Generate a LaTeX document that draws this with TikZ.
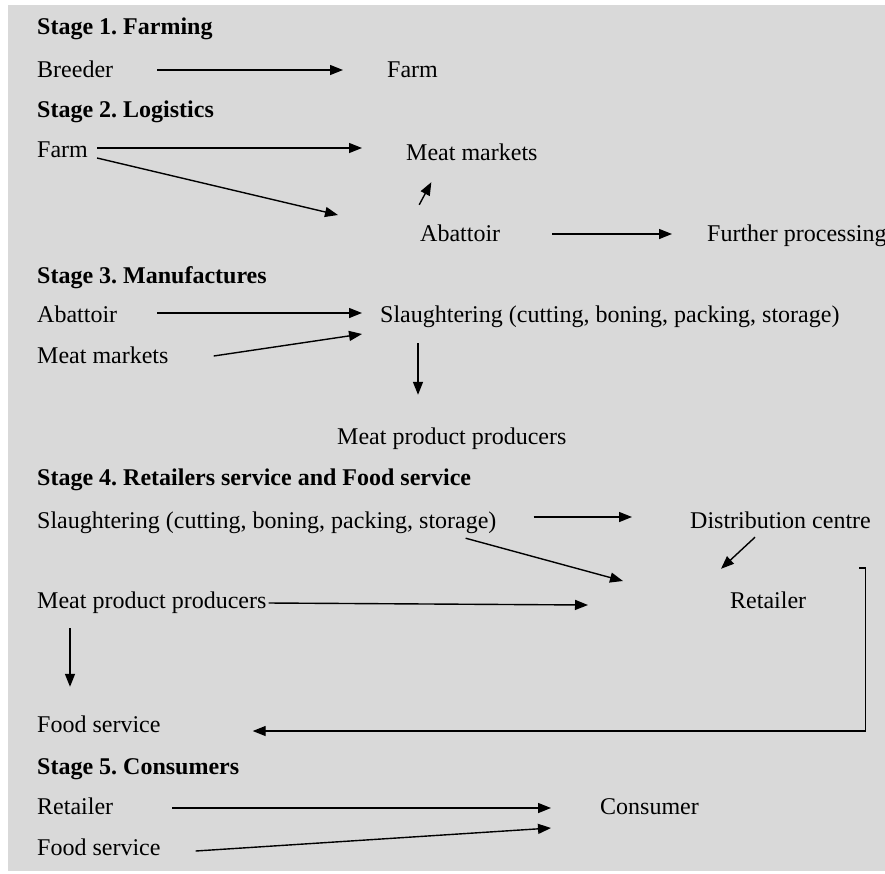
\documentclass[tikz,border=0pt]{standalone}
\usepackage{fontspec}
\setmainfont{Liberation Serif}
\usetikzlibrary{arrows.meta}
\definecolor{bggray}{RGB}{217,217,217}
\frenchspacing
\begin{document}
\begin{tikzpicture}[x=1pt,y=-1pt,
  lbl/.style={anchor=base west,inner sep=0pt,text height=16pt,text depth=5pt,
    font=\fontsize{24}{28}\selectfont},
  stagelbl/.style={lbl,font=\fontsize{24}{28}\selectfont\bfseries},
  arr/.style={line width=1.4pt,-{Triangle[length=13pt,width=10pt]}}]
\useasboundingbox (0,0) rectangle (885,873);
\fill[bggray] (8,5) rectangle (885,871);
% Stage 1
\node[stagelbl] (st1) at (37,34) {Stage 1. Farming};
\node[lbl] (breeder) at (37,77) {Breeder};
\node[lbl] (farmA) at (387,77) {Farm};
% Stage 2
\node[stagelbl] (st2) at (37,117) {Stage 2. Logistics};
\node[lbl] (farmB) at (37,157) {Farm};
\node[lbl] (mmA) at (406,160) {Meat markets};
\node[lbl] (abA) at (420,241) {Abattoir};
\node[lbl] (further) at (707,241) {Further processing};
% Stage 3
\node[stagelbl] (st3) at (37,283) {Stage 3. Manufactures};
\node[lbl] (abB) at (37,322) {Abattoir};
\node[lbl] (slA) at (380,322) {Slaughtering (cutting, boning, packing, storage)};
\node[lbl] (mmB) at (37,363) {Meat markets};
\node[lbl] (mppA) at (337,444) {Meat product producers};
% Stage 4
\node[stagelbl] (st4) at (37,485) {Stage 4. Retailers service and Food service};
\node[lbl] (slB) at (37,528) {Slaughtering (cutting, boning, packing, storage)};
\node[lbl] (dist) at (690,528) {Distribution centre};
\node[lbl] (retA) at (730,608) {Retailer};
\node[lbl] (mppB) at (37,608) {Meat product producers};
\node[lbl] (foodA) at (37,732) {Food service};
% Stage 5
\node[stagelbl] (st5) at (37,774) {Stage 5. Consumers};
\node[lbl] (retB) at (37,814) {Retailer};
\node[lbl] (cons) at (600,814) {Consumer};
\node[lbl] (foodB) at (37,855) {Food service};
% connectors
\draw[arr] ([shift={(44,-1.5)}]breeder.east) -- ([shift={(-44,-1.5)}]farmA.west);
\draw[arr] ([shift={(9,-3.5)}]farmB.east) -- ([shift={(-44,-6.5)}]mmA.west);
\draw[arr] ([shift={(9,6.5)}]farmB.east) -- ([shift={(-82,-20.5)}]abA.west);
\draw[arr] ([shift={(-41,-20)}]abA.north) -- ([shift={(-40.5,17)}]mmA.south);
\draw[arr] ([shift={(52,-1.5)}]abA.east) -- ([shift={(-35,-1.5)}]further.west);
\draw[arr] ([shift={(40,-3.5)}]abB.east) -- ([shift={(-18,-3.5)}]slA.west);
\draw[arr] ([shift={(45,-1.5)}]mmB.east) -- ([shift={(-18,17.5)}]slA.west);
\draw[arr] ([shift={(38,16)}]slA.south west) -- ([shift={(81,-33)}]mppA.north west);
\draw[arr] ([shift={(37,-5.5)}]slB.east) -- ([shift={(-58,-5.5)}]dist.west);
\draw[arr] ([shift={(-31,5)}]slB.south east) -- ([shift={(-107,-21.5)}]retA.west);
\draw[arr] ([shift={(-25.5,4)}]dist.south) -- ([shift={(-9,-23)}]retA.north west);
\draw[arr] ([shift={(2,0.5)}]mppB.east) -- ([shift={(-142,2.5)}]retA.west);
\draw[arr] ([shift={(33,15)}]mppB.south west) -- ([shift={(33,-29)}]foodA.north west);
\draw[arr] ([shift={(53,-24)}]retA.north east) -- ++(6,0) |- ([shift={(92,4.5)}]foodA.east);
\draw[arr] ([shift={(59,-0.5)}]retB.east) -- ([shift={(-49,-0.5)}]cons.west);
\draw[arr] ([shift={(35,1.5)}]foodB.east) -- ([shift={(-49,19.5)}]cons.west);
\end{tikzpicture}
\end{document}
